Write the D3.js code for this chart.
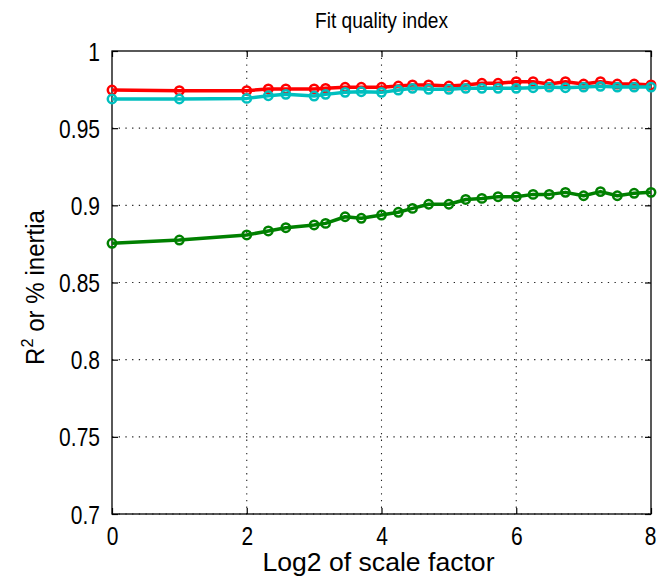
<!DOCTYPE html>
<html>
<head>
<meta charset="utf-8">
<script src="https://cdn.jsdelivr.net/npm/d3@7"></script>
<style>
  html, body { margin: 0; padding: 0; background: #fff; }
  svg { display: block; }
  text { font-family: "Liberation Sans", Arial, Helvetica, sans-serif; fill: #000; }
</style>
</head>
<body>
<svg id="chart" width="657" height="579"></svg>
<script>
// log2 of the scale factors that were evaluated
const log2Scale = [0, 1, 2, 2.32, 2.58, 3, 3.17, 3.46, 3.70, 4, 4.25, 4.46, 4.70, 5,
  5.25, 5.49, 5.73, 6, 6.25, 6.49, 6.73, 7, 7.25, 7.5, 7.75, 8];

// fit quality series
const redSeries = [0.9747, 0.9743, 0.9743, 0.9754, 0.9754, 0.9754, 0.9758, 0.9765, 0.9765,
  0.9765, 0.9773, 0.9780, 0.9780, 0.9773, 0.9780, 0.9791, 0.9791, 0.9801, 0.9801, 0.9786,
  0.9801, 0.9786, 0.9801, 0.9786, 0.9786, 0.9780];
const cyanSeries = [0.9689, 0.9689, 0.9693, 0.9710, 0.9719, 0.9708, 0.9719, 0.9732, 0.9736,
  0.9732, 0.9747, 0.9758, 0.9752, 0.9752, 0.9758, 0.9758, 0.9758, 0.9758, 0.9762, 0.9766,
  0.9762, 0.9766, 0.9771, 0.9766, 0.9766, 0.9766];
const greenSeries = [0.8754, 0.8775, 0.8808, 0.8834, 0.8855, 0.8873, 0.8883, 0.8926, 0.8916,
  0.8937, 0.8955, 0.8980, 0.9007, 0.9007, 0.9038, 0.9045, 0.9056, 0.9056, 0.9071, 0.9071,
  0.9084, 0.9062, 0.9089, 0.9062, 0.9078, 0.9084];

const xTicks = [0, 2, 4, 6, 8];
const yTicks = [0.7, 0.75, 0.8, 0.85, 0.9, 0.95, 1];
const yTickLabels = ["0.7", "0.75", "0.8", "0.85", "0.9", "0.95", "1"];

const plotLeft = 112, plotRight = 651, plotTop = 51, plotBottom = 514;

const svg = d3.select("#chart");
const x = d3.scaleLinear().domain([0, 8]).range([plotLeft, plotRight]);
const y = d3.scaleLinear().domain([0.7, 1]).range([plotBottom, plotTop]);

// dotted grid
const grid = svg.append("g").attr("stroke", "#222").attr("stroke-width", 1.1)
  .attr("stroke-dasharray", "1.3,5.4");
grid.selectAll("line.gx").data(xTicks.slice(1, -1)).join("line")
  .attr("x1", d => x(d)).attr("x2", d => x(d)).attr("y1", plotTop).attr("y2", plotBottom);
grid.selectAll("line.gy").data(yTicks.slice(0, -1)).join("line")
  .attr("x1", plotLeft).attr("x2", plotRight).attr("y1", d => y(d)).attr("y2", d => y(d));

// narrow the glyphs a little, keeping the text anchor in place
function narrow(sel, factor) {
  sel.each(function () {
    const w = this.getComputedTextLength();
    d3.select(this).attr("textLength", w * factor).attr("lengthAdjust", "spacingAndGlyphs");
  });
}

// axes with inward ticks on all four sides
const tickLen = 6;
const fmtY = d => yTickLabels[yTicks.indexOf(d)];
const axB = d3.axisBottom(x).tickValues(xTicks).tickSize(-tickLen).tickPadding(12).tickFormat(d3.format("d"));
const axT = d3.axisTop(x).tickValues(xTicks).tickSize(-tickLen).tickFormat("");
const axL = d3.axisLeft(y).tickValues(yTicks).tickSize(-tickLen).tickPadding(12).tickFormat(fmtY);
const axR = d3.axisRight(y).tickValues(yTicks).tickSize(-tickLen).tickFormat("");

function styleAxis(g) {
  g.select(".domain").remove();
  g.selectAll(".tick line").attr("stroke", "#000").attr("stroke-width", 1.2);
  g.selectAll("text").attr("font-size", 25).attr("fill", "#000")
    .attr("font-family", "Liberation Sans, Arial, sans-serif");
}
const bottomAxis = svg.append("g").attr("transform", `translate(0,${plotBottom})`).call(axB).call(styleAxis);
bottomAxis.selectAll("text").attr("dy", "0.74em").call(narrow, 0.84);
// keep the last label inside the page edge
bottomAxis.selectAll("text").filter(d => d === 8).attr("text-anchor", "end").attr("x", 5);
svg.append("g").attr("transform", `translate(0,${plotTop})`).call(axT).call(styleAxis);
svg.append("g").attr("transform", `translate(${plotLeft},0)`).call(axL).call(styleAxis)
  .selectAll("text").attr("dy", "0.36em").call(narrow, 0.84);
svg.append("g").attr("transform", `translate(${plotRight},0)`).call(axR).call(styleAxis);

// plot frame
svg.append("rect").attr("x", plotLeft).attr("y", plotTop)
  .attr("width", plotRight - plotLeft).attr("height", plotBottom - plotTop)
  .attr("fill", "none").attr("stroke", "#000").attr("stroke-width", 1.3);

// data series
const series = [
  { values: greenSeries, color: "#008000" },
  { values: redSeries, color: "#ff0000" },
  { values: cyanSeries, color: "#00bfbf" }
];
const line = d3.line().x(d => x(d[0])).y(d => y(d[1]));
series.forEach(s => {
  const pts = log2Scale.map((v, i) => [v, s.values[i]]);
  const g = svg.append("g");
  g.append("path").datum(pts).attr("d", line)
    .attr("fill", "none").attr("stroke", s.color).attr("stroke-width", 3.5)
    .attr("stroke-linejoin", "round");
  g.selectAll("circle").data(pts).join("circle")
    .attr("cx", d => x(d[0])).attr("cy", d => y(d[1])).attr("r", 4.2)
    .attr("fill", "none").attr("stroke", s.color).attr("stroke-width", 2.5);
});

// titles
svg.append("text").attr("x", (plotLeft + plotRight) / 2).attr("y", 28)
  .attr("text-anchor", "middle").attr("font-size", 22)
  .attr("textLength", 133).attr("lengthAdjust", "spacingAndGlyphs")
  .text("Fit quality index");
svg.append("text").attr("x", (plotLeft + plotRight) / 2 - 3).attr("y", 571)
  .attr("text-anchor", "middle").attr("font-size", 25)
  .attr("textLength", 232).attr("lengthAdjust", "spacingAndGlyphs")
  .text("Log2 of scale factor");
const yl = svg.append("text")
  .attr("transform", `translate(44,${(plotTop + plotBottom) / 2 + 5}) rotate(-90)`)
  .attr("text-anchor", "middle").attr("font-size", 25)
  .attr("textLength", 155).attr("lengthAdjust", "spacingAndGlyphs");
yl.append("tspan").text("R");
yl.append("tspan").attr("dy", -11).attr("font-size", 17).text("2");
yl.append("tspan").attr("dy", 11).text(" or % inertia");
</script>
</body>
</html>
